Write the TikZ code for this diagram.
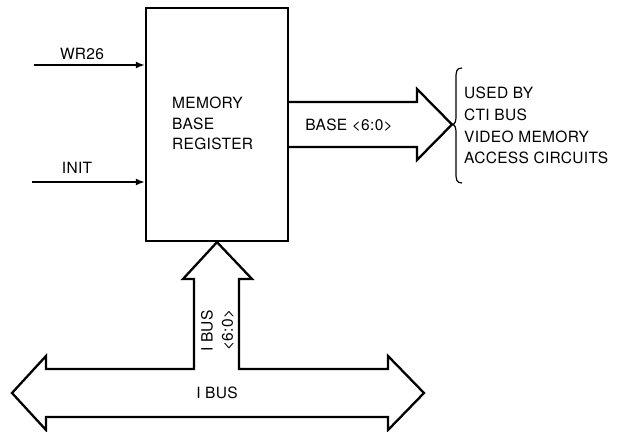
\documentclass[tikz,border=0pt]{standalone}
\usepackage{fontspec}
\setmainfont[LetterSpace=2]{TeX Gyre Heros}
\usetikzlibrary{arrows.meta}
\begin{document}
\begin{tikzpicture}[x=1pt,y=-1pt,
  lbl/.style={inner sep=0pt,font=\fontsize{15.5}{20.5}\selectfont},
  bus/.style={line width=2.3pt,line join=miter},
  sig/.style={line width=1.8pt,-{Latex[length=9pt,width=7pt]}},
  thin/.style={line width=1.2pt}]
\useasboundingbox (0,0) rectangle (618,431);
% register box
\node[draw,line width=2.3pt,minimum width=142pt,minimum height=233pt,inner sep=0pt] (reg) at (217,124.5) {};
\node[lbl,anchor=west,align=left] (regtxt) at (172,123.5) {MEMORY\\BASE\\REGISTER};
% inputs
\coordinate (wrs) at (34,65);
\coordinate (ins) at (32,182);
\draw[sig] (wrs) -- (wrs -| reg.west);
\draw[sig] (ins) -- (ins -| reg.west);
\node[lbl] (wr26) at (82,54) {WR26};
\node[lbl] (init) at (77,168) {INIT};
% output bus arrow
\coordinate (otip) at (452,124.5);
\draw[bus] (reg.east |- 0,102) -- (417,102) -- (417,89) -- (otip) -- (417,160) -- (417,147) -- (reg.east |- 0,147);
\node[lbl] (base) at (349,125) {BASE <6:0>};
% brace
\draw[thin] (462,68) .. controls (456,68) and (456,72) .. (456,79) -- (456,117) .. controls (456,121) and (455,124.5) .. (otip) .. controls (455,124.5) and (456,128) .. (456,132) -- (456,172) .. controls (456,179) and (456,183) .. (462,183);
\node[lbl,anchor=west,align=left,font=\fontsize{15.5}{21.7}\selectfont] (used) at (464,125.5) {USED BY\\CTI BUS\\VIDEO MEMORY\\ACCESS CIRCUITS};
% I bus with branch to register
\coordinate (itip) at (reg.south);
\draw[bus] (12,393) -- (46,356) -- (46,369) -- (194,369) -- (194,279) -- (183,279) -- (itip) -- (252,279) -- (239,279) -- (239,369) -- (388,369) -- (388,356) -- (424,393) -- (388,430) -- (388,417) -- (46,417) -- (46,430) -- cycle;
\node[lbl,rotate=90] (ibusv) at (207,331) {I BUS};
\node[lbl,rotate=90] (ibusw) at (228,330) {<6:0>};
\node[lbl] (ibus) at (217,393) {I BUS};
\end{tikzpicture}
\end{document}
